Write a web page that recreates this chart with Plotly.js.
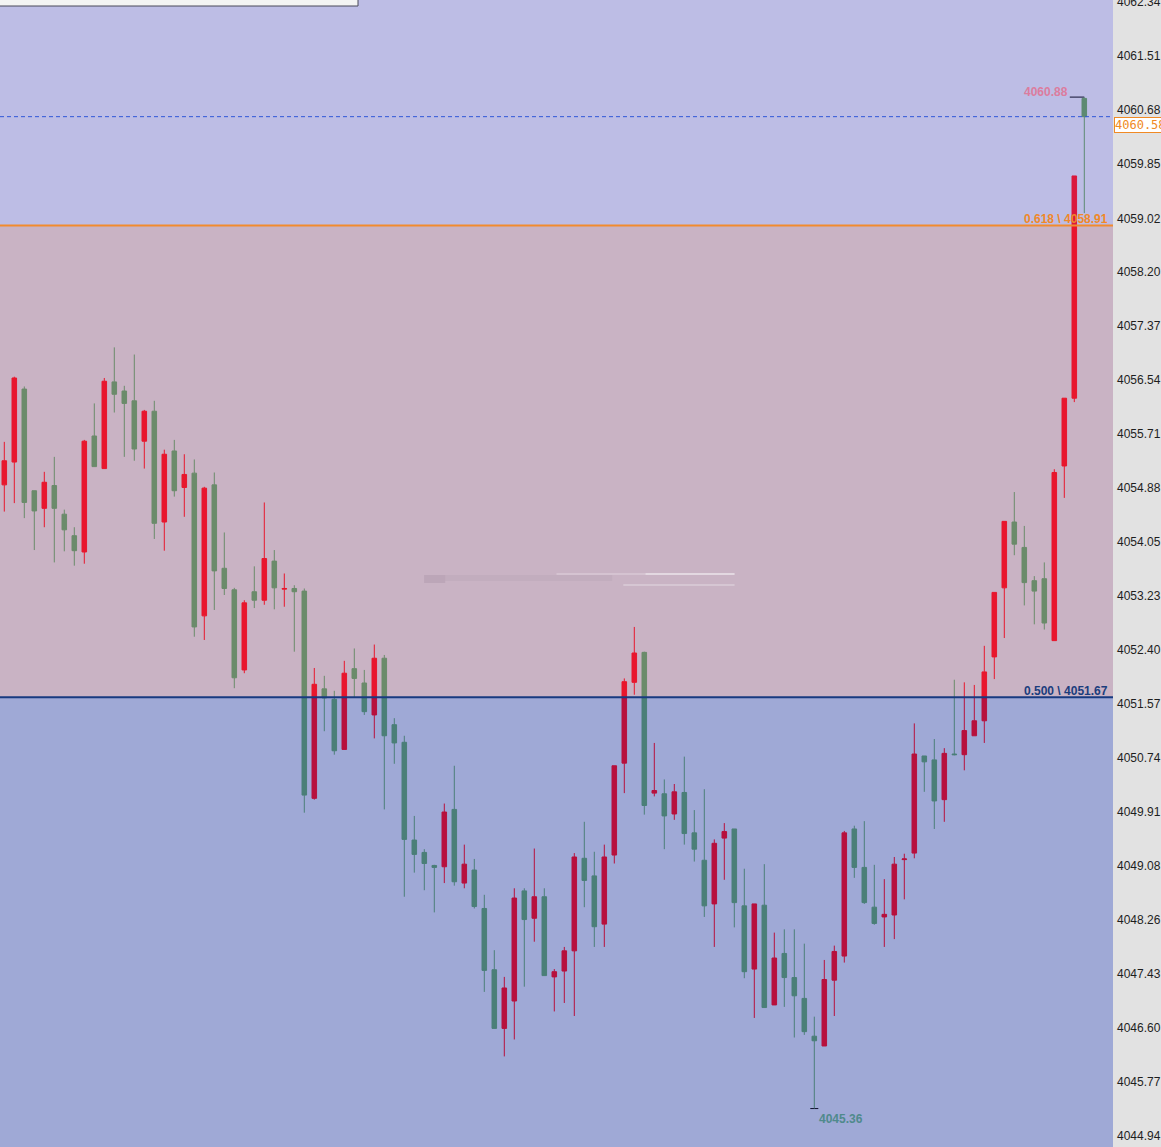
<!DOCTYPE html>
<html><head><meta charset="utf-8">
<script src="https://cdn.plot.ly/plotly-3.0.1.min.js"></script>
<style>html,body{margin:0;padding:0;background:#e2e2e2;overflow:hidden;} #chart{width:1161px;height:1147px;}</style>
</head><body><div id="chart"></div>
<script>
// ---- data ----
const opens = [4054.93,4055.28,4056.40,4054.84,4054.57,4054.92,4054.48,4054.15,4053.90,4055.68,
4055.18,4056.51,4056.37,4056.22,4055.60,4056.06,4054.36,4055.45,4054.89,4055.11,
4052.92,4054.93,4053.65,4053.32,4052.09,4053.29,4053.16,4053.76,4053.33,4053.34,
4053.30,4050.12,4051.80,4051.64,4050.87,4052.11,4051.89,4051.40,4052.27,4051.25,
4050.98,4049.48,4049.29,4049.09,4049.07,4049.95,4048.82,4049.02,4048.43,4047.49,
4046.59,4047.01,4048.70,4048.28,4048.61,4047.38,4047.47,4047.78,4049.20,4048.93,
4048.19,4049.25,4050.66,4051.90,4052.36,4050.20,4050.19,4049.88,4050.21,4049.59,
4049.17,4048.50,4049.51,4049.65,4048.47,4047.50,4048.48,4046.95,4047.74,4047.37,
4047.05,4046.47,4046.32,4047.33,4047.70,4049.65,4049.06,4048.45,4048.30,4048.33,
4049.18,4049.28,4050.77,4050.71,4050.10,4050.80,4050.79,4051.08,4051.31,4052.29,
4053.35,4054.36,4053.97,4053.46,4053.49,4052.54,4055.22,4056.26,4060.86];
const highs = [4055.59,4056.59,4056.44,4054.84,4055.13,4055.36,4054.55,4054.28,4055.62,4056.18,
4056.57,4057.04,4056.45,4056.93,4056.08,4056.22,4055.47,4055.62,4055.40,4055.32,
4054.90,4055.12,4054.20,4053.35,4053.16,4053.68,4054.66,4053.93,4053.57,4053.39,
4053.34,4052.12,4052.00,4051.77,4052.23,4052.42,4052.09,4052.48,4052.32,4051.35,
4051.08,4049.85,4049.34,4049.10,4050.04,4050.62,4049.41,4049.19,4048.64,4047.79,
4047.38,4048.74,4048.74,4049.35,4048.74,4047.50,4047.84,4049.28,4049.76,4049.30,
4049.41,4050.62,4051.96,4052.75,4052.37,4050.97,4050.41,4050.34,4050.76,4049.94,
4050.26,4049.49,4049.74,4049.65,4049.04,4048.50,4049.11,4048.06,4048.11,4048.11,
4047.89,4046.77,4047.64,4047.86,4049.62,4049.70,4049.77,4049.10,4048.88,4049.22,
4049.27,4051.27,4050.77,4051.03,4050.89,4051.94,4051.90,4051.86,4052.46,4053.28,
4054.37,4054.82,4054.30,4053.53,4053.74,4055.17,4056.26,4059.67,4060.88];
const lows = [4054.52,4054.65,4054.42,4053.93,4054.28,4053.74,4053.91,4053.69,4053.72,4055.21,
4055.18,4056.04,4055.36,4055.30,4055.18,4054.10,4053.92,4054.75,4054.44,4052.60,
4052.55,4053.01,4053.24,4051.81,4052.04,4053.04,4053.09,4053.02,4053.06,4052.37,
4049.90,4050.10,4051.15,4050.79,4050.87,4051.66,4051.40,4051.04,4049.95,4050.65,
4048.61,4048.98,4048.71,4048.37,4048.82,4048.78,4048.74,4048.43,4047.15,4046.59,
4046.16,4046.42,4047.23,4047.92,4047.40,4046.85,4046.98,4046.78,4048.45,4047.84,
4047.84,4049.12,4050.20,4051.71,4049.87,4050.15,4049.34,4049.79,4049.41,4049.15,
4048.30,4047.84,4048.87,4048.14,4047.36,4046.75,4046.91,4046.95,4046.92,4046.45,
4046.49,4045.36,4046.32,4046.78,4047.60,4048.90,4048.50,4048.18,4047.84,4047.96,
4048.57,4049.20,4050.22,4049.65,4049.76,4050.78,4050.55,4051.08,4050.97,4051.95,
4052.58,4053.85,4053.08,4052.79,4052.71,4052.54,4054.73,4056.20,4059.10];
const closes = [4055.30,4056.57,4054.66,4054.53,4054.97,4054.57,4054.24,4053.92,4055.60,4055.21,
4056.52,4056.32,4056.18,4055.48,4056.06,4054.34,4055.40,4054.84,4055.09,4052.75,
4054.88,4053.61,4053.34,4051.97,4053.12,4053.16,4053.80,4053.35,4053.34,4053.29,
4050.17,4051.87,4051.66,4050.85,4052.04,4051.96,4051.45,4052.27,4051.08,4050.97,
4049.49,4049.26,4049.12,4049.06,4049.91,4048.84,4049.11,4048.46,4047.48,4046.59,
4047.21,4048.59,4048.26,4048.61,4047.40,4047.46,4047.78,4049.22,4048.86,4048.15,
4049.22,4050.62,4051.91,4052.35,4050.01,4050.24,4049.85,4050.22,4049.58,4049.34,
4048.47,4049.43,4049.61,4048.52,4047.46,4048.50,4046.91,4047.67,4047.37,4047.09,
4046.54,4046.40,4047.34,4047.77,4049.59,4049.06,4048.52,4048.20,4048.34,4049.11,
4049.19,4050.80,4050.68,4050.08,4050.81,4050.79,4051.16,4051.31,4052.06,4053.28,
4054.37,4054.02,4053.43,4053.30,4052.81,4055.12,4056.26,4059.67,4060.58];
const barIndex = opens.map((_, i) => i);

const yTickLabels = ["4044.94","4045.77","4046.60","4047.43","4048.26","4049.08","4049.91","4050.74",
"4051.57","4052.40","4053.23","4054.05","4054.88","4055.71","4056.54","4057.37","4058.20","4059.02",
"4059.85","4060.68","4061.51","4062.34"];
const fibRatios = ["0.500", "0.618"];
const fibLevels = [4051.67, 4058.91];

// ---- layout constants ----
const yMin = 4044.77, yMax = 4062.37;
const span = yMax - yMin;
const f1 = (fibLevels[0] - yMin) / span;
const f2 = (fibLevels[1] - yMin) / span;

const hiIdx = highs.indexOf(Math.max(...highs));
const loIdx = lows.indexOf(Math.min(...lows));
const lastPrice = closes[closes.length - 1];

const zones = [
  {axis: 'y2', inc: '#b7103d', dec: '#4b7f78'},
  {axis: 'y3', inc: '#e8172d', dec: '#6b8b6b'},
  {axis: 'y4', inc: '#da183d', dec: '#5d8a72'}
];

const traces = [];
traces.push({
  type: 'scatter', mode: 'lines', xaxis: 'x', yaxis: 'y',
  x: [hiIdx - 1.45, hiIdx, null, loIdx - 0.4, loIdx + 0.4],
  y: [highs[hiIdx], highs[hiIdx], null, lows[loIdx], lows[loIdx]],
  line: {color: '#101030', width: 1}, hoverinfo: 'skip', showlegend: false
});
zones.forEach(z => {
  traces.push({
    type: 'candlestick', xaxis: 'x', yaxis: z.axis,
    x: barIndex, open: opens, high: highs, low: lows, close: closes,
    increasing: {line: {color: z.inc, width: 1}, fillcolor: z.inc},
    decreasing: {line: {color: z.dec, width: 1}, fillcolor: z.dec},
    whiskerwidth: 0, hoverinfo: 'skip', showlegend: false
  });
});

const axisFont = {family: 'Liberation Sans, Arial, sans-serif', size: 12, color: '#1e1e1e'};
const hiddenY = (dom, rng) => ({domain: dom, range: rng, visible: false, fixedrange: true, anchor: 'x'});

const shapes = [
  {type: 'rect', xref: 'paper', yref: 'y', x0: 0, x1: 1, y0: yMin, y1: fibLevels[0], fillcolor: '#9fa9d6', line: {width: 0}, layer: 'below'},
  {type: 'rect', xref: 'paper', yref: 'y', x0: 0, x1: 1, y0: fibLevels[0], y1: fibLevels[1], fillcolor: '#c9b3c4', line: {width: 0}, layer: 'below'},
  {type: 'rect', xref: 'paper', yref: 'y', x0: 0, x1: 1, y0: fibLevels[1], y1: yMax, fillcolor: '#bdbde5', line: {width: 0}, layer: 'below'},
  // faint blurred drawing
  {type: 'line', xref: 'paper', yref: 'paper', x0: 0.381, x1: 0.40, y0: 1 - 579/1147, y1: 1 - 579/1147, line: {color: 'rgba(140,125,140,0.22)', width: 8}, layer: 'below'},
  {type: 'line', xref: 'paper', yref: 'paper', x0: 0.40, x1: 0.55, y0: 1 - 578/1147, y1: 1 - 578/1147, line: {color: 'rgba(150,135,150,0.12)', width: 6}, layer: 'below'},
  {type: 'line', xref: 'paper', yref: 'paper', x0: 0.50, x1: 0.66, y0: 1 - 574/1147, y1: 1 - 574/1147, line: {color: 'rgba(255,255,255,0.22)', width: 2}, layer: 'below'},
  {type: 'line', xref: 'paper', yref: 'paper', x0: 0.58, x1: 0.66, y0: 1 - 574/1147, y1: 1 - 574/1147, line: {color: 'rgba(255,255,255,0.35)', width: 2}, layer: 'below'},
  {type: 'line', xref: 'paper', yref: 'paper', x0: 0.56, x1: 0.66, y0: 1 - 585/1147, y1: 1 - 585/1147, line: {color: 'rgba(255,255,255,0.25)', width: 2}, layer: 'below'},
  // fib lines
  {type: 'line', xref: 'paper', yref: 'y', x0: 0, x1: 1, y0: fibLevels[1], y1: fibLevels[1], line: {color: '#f28b2e', width: 2}, layer: 'above'},
  {type: 'line', xref: 'paper', yref: 'y', x0: 0, x1: 1, y0: fibLevels[0], y1: fibLevels[0], line: {color: '#173a80', width: 2}, layer: 'above'},
  // last price dashed
  {type: 'line', xref: 'paper', yref: 'y', x0: 0, x1: 1, y0: lastPrice, y1: lastPrice, line: {color: '#3057d8', width: 1, dash: '4px,3px'}, layer: 'above'},
  // partial box top-left
  {type: 'rect', xref: 'paper', yref: 'paper', x0: -0.01, x1: 358/1113, y0: 1 - 6/1147, y1: 1.02, fillcolor: '#f3f4f3', line: {color: '#4a4a5a', width: 1}, layer: 'above'}
];

const boldFont = (c) => ({family: 'Liberation Sans, Arial, sans-serif', size: 12, color: c, weight: 'bold'});
const annotations = [
  {xref: 'paper', x: 1, xanchor: 'right', xshift: -3, yref: 'y', y: fibLevels[1], yanchor: 'bottom', yshift: -3,
   text: '<b>' + fibRatios[1] + ' \\ ' + fibLevels[1].toFixed(2) + '</b>', showarrow: false, font: boldFont('#f0882a')},
  {xref: 'paper', x: 1, xanchor: 'right', xshift: -3, yref: 'y', y: fibLevels[0], yanchor: 'bottom', yshift: -3,
   text: '<b>' + fibRatios[0] + ' \\ ' + fibLevels[0].toFixed(2) + '</b>', showarrow: false, font: boldFont('#1b3d7d')},
  {xref: 'x', x: hiIdx, xanchor: 'right', xshift: -14, yref: 'y', y: highs[hiIdx], yanchor: 'bottom', yshift: -4,
   text: '<b>' + highs[hiIdx].toFixed(2) + '</b>', showarrow: false, font: boldFont('#dc7c9e')},
  {xref: 'x', x: loIdx, xanchor: 'left', xshift: 3, yref: 'y', y: lows[loIdx], yanchor: 'top', yshift: -1,
   text: '<b>' + lows[loIdx].toFixed(2) + '</b>', showarrow: false, font: boldFont('#4f8a8c')},
  {xref: 'paper', x: 1, xanchor: 'left', xshift: 1, yref: 'y', y: lastPrice, yanchor: 'top',
   text: lastPrice.toFixed(2), showarrow: false, bgcolor: '#ffffff', bordercolor: '#f08a24', borderwidth: 1, borderpad: 0,
   font: {family: 'DejaVu Sans Mono, monospace', size: 12, color: '#f08a24'}}
];

const layout = {
  width: 1161, height: 1147,
  margin: {l: 0, r: 48, t: 0, b: 0, pad: 0},
  paper_bgcolor: '#e2e2e2', plot_bgcolor: 'rgba(0,0,0,0)',
  showlegend: false, boxgap: 0.35, dragmode: false,
  xaxis: {range: [-0.43, 110.87], visible: false, fixedrange: true, rangeslider: {visible: false}, anchor: 'y'},
  yaxis: {domain: [0, 1], range: [yMin, yMax], side: 'right', anchor: 'x', tickvals: yTickLabels.map(Number), ticktext: yTickLabels,
          ticks: '', showgrid: false, zeroline: false, showline: false, tickfont: axisFont, fixedrange: true,
          ticklabeloverflow: 'allow', ticklabelstandoff: 3},
  yaxis2: hiddenY([0, f1], [yMin, fibLevels[0]]),
  yaxis3: hiddenY([f1, f2], [fibLevels[0], fibLevels[1]]),
  yaxis4: hiddenY([f2, 1], [fibLevels[1], yMax]),
  shapes: shapes, annotations: annotations
};

Plotly.newPlot('chart', traces, layout, {staticPlot: true, displayModeBar: false});
</script></body></html>
